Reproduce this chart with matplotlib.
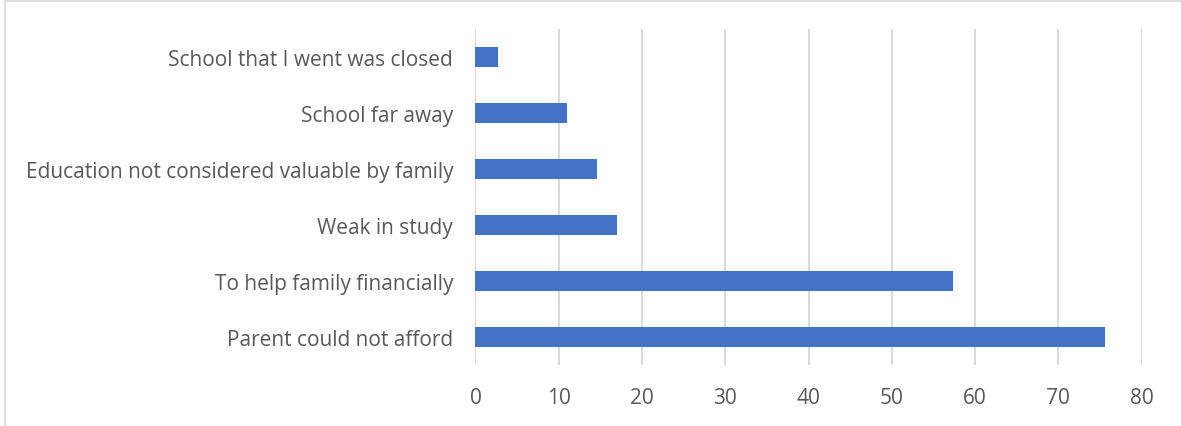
import matplotlib.pyplot as plt
from matplotlib.lines import Line2D

reasons = ['Parent could not afford', 'To help family financially', 'Weak in study',
           'Education not considered valuable by family', 'School far away',
           'School that I went was closed']
percent = [75.6, 57.4, 17.0, 14.6, 11.0, 2.7]
x_ticks = [0, 10, 20, 30, 40, 50, 60, 70, 80]

plt.rcParams['font.family'] = ['Open Sans', 'DejaVu Sans']

fig = plt.figure(figsize=(11.81, 4.27), dpi=100)
ax = fig.add_axes([0.4026, 0.143, 0.9667 - 0.4026, 0.9297 - 0.143])

ax.barh(range(len(reasons)), percent, height=0.36, color='#4472C4', zorder=3)

ax.set_xlim(0, 80)
ax.set_ylim(-0.5, len(reasons) - 0.5)
ax.set_xticks(x_ticks)
ax.set_yticks(range(len(reasons)))
ax.set_yticklabels(reasons)

ax.grid(axis='x', color='#d9d9d9', linewidth=1.4, zorder=0)
ax.grid(axis='y', visible=False)
for s in ax.spines.values():
    s.set_visible(False)
ax.axvline(0, color='#d9d9d9', linewidth=1.4, zorder=1)

ax.tick_params(axis='both', length=0, labelsize=15, labelcolor='#595959')
ax.tick_params(axis='y', pad=16)
ax.tick_params(axis='x', pad=16)

# chart frame, cut at the right and bottom edges
fig.add_artist(Line2D([4.5 / 1181, 1.0], [1 - 1.5 / 427, 1 - 1.5 / 427],
                      transform=fig.transFigure, color='#d9d9d9', linewidth=1.2))
fig.add_artist(Line2D([4.5 / 1181, 4.5 / 1181], [0, 1 - 1.5 / 427],
                      transform=fig.transFigure, color='#d9d9d9', linewidth=1.2))

plt.savefig('out.png', dpi=100)
plt.close()
